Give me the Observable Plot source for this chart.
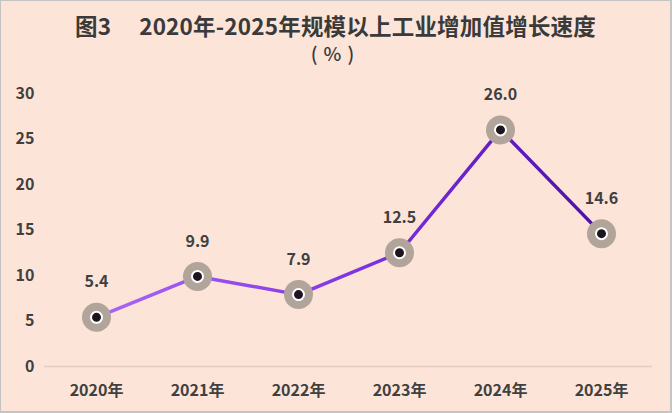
<!DOCTYPE html>
<html>
<head>
<meta charset="utf-8">
<script src="https://cdn.jsdelivr.net/npm/d3@7"></script>
<script src="https://cdn.jsdelivr.net/npm/@observablehq/plot@0.6"></script>
<style>
  html, body { margin: 0; padding: 0; background: #fff; }
  #frame {
    box-sizing: border-box; width: 672px; height: 413px;
    background: #fce5d8; border: 1px solid #c4c4c4; border-right-width: 2px; border-bottom-width: 2px; overflow: hidden;
  }
  #title {
    height: 74px; text-align: center; color: #3a3a3a;
    font-family: "Noto Sans CJK SC", sans-serif; font-weight: 700;
  }
  #title .t1 { font-size: 22.5px; padding-top: 9px; line-height: 30px; letter-spacing: 0.2px; }
  #title .t2 { font-size: 19px; line-height: 26px; font-weight: 500; letter-spacing: 6px; }
</style>
</head>
<body>
<div id="frame">
  <div id="title">
    <div class="t1">图3　 2020年-2025年规模以上工业增加值增长速度</div>
    <div class="t2">(%)</div>
  </div>
  <div id="chart"></div>
</div>
<script>
const years = ["2020年", "2021年", "2022年", "2023年", "2024年", "2025年"];
const growth = [5.4, 9.9, 7.9, 12.5, 26.0, 14.6];
const yTicks = [0, 5, 10, 15, 20, 25, 30];

const data = years.map((y, i) => ({year: y, value: growth[i]}));

const defs = () => {
  const d = d3.create("svg:defs");
  const g = d.append("linearGradient").attr("id", "lineGrad")
    .attr("x1", "0%").attr("x2", "100%").attr("y1", "0%").attr("y2", "0%");
  g.append("stop").attr("offset", "0%").attr("stop-color", "#ab66f7");
  g.append("stop").attr("offset", "55%").attr("stop-color", "#7c30e2");
  g.append("stop").attr("offset", "100%").attr("stop-color", "#4e0ea6");
  return d.node();
};

const chart = Plot.plot({
  width: 669,
  height: 337,
  marginTop: 18,
  marginBottom: 46,
  marginLeft: 43,
  marginRight: 18,
  style: {background: "transparent", fontFamily: "'Noto Sans CJK SC', sans-serif", fontSize: "16px", color: "#404040"},
  x: {type: "point", domain: years, padding: 0.5, label: null},
  y: {domain: [0, 30], ticks: yTicks, label: null},
  marks: [
    defs,
    Plot.ruleY([0], {stroke: "#e0cdc1", strokeWidth: 1.6}),
    Plot.axisY({ticks: yTicks, tickSize: 0, tickPadding: 0, dx: -10, label: null, fontWeight: "bold", fontSize: 16, fill: "#404040", textAnchor: "end"}),
    Plot.axisX({tickSize: 0, label: null, fontWeight: "bold", fontSize: 16, fill: "#404040", tickPadding: 18}),
    Plot.line(data, {x: "year", y: "value", stroke: "url(#lineGrad)", strokeWidth: 3.5}),
    Plot.dot(data, {x: "year", y: "value", r: 14.5, fill: "#b1a49a", stroke: "none"}),
    Plot.dot(data, {x: "year", y: "value", r: 5.5, fill: "#1d1420", stroke: "#ffffff", strokeWidth: 2}),
    Plot.text(data, {x: "year", y: "value", text: d => d.value.toFixed(1), dy: -35, fontWeight: "bold", fontSize: 16, fill: "#404040"})
  ]
});
document.getElementById("chart").appendChild(chart);
</script>
</body>
</html>
